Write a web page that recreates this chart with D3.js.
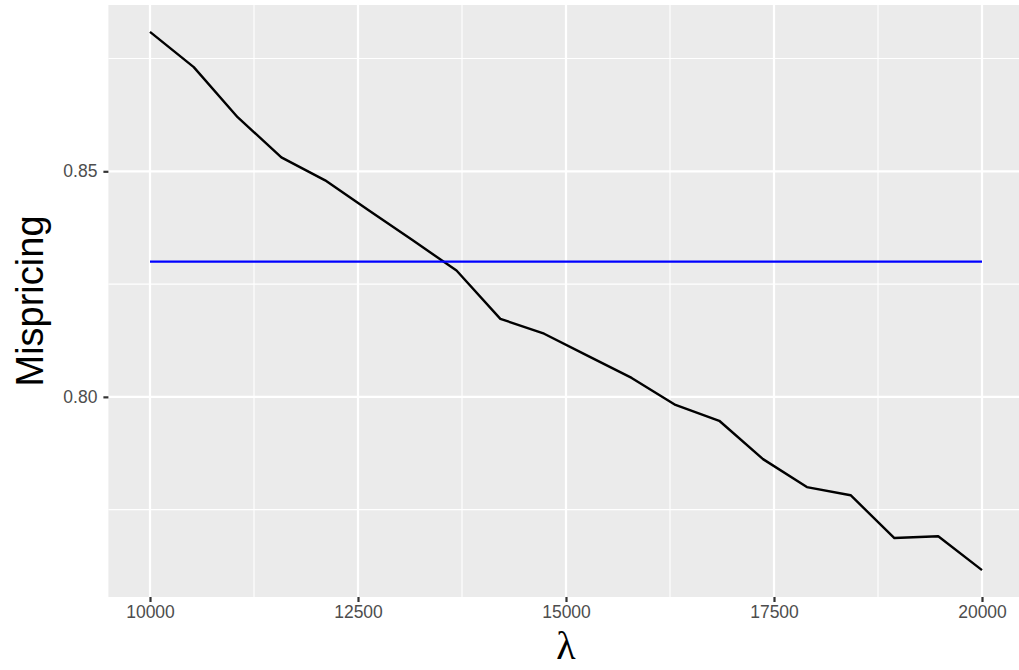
<!DOCTYPE html>
<html>
<head>
<meta charset="utf-8">
<script src="https://cdn.jsdelivr.net/npm/d3@7"></script>
<style>
  html, body { margin: 0; padding: 0; background: #fff; }
  svg { display: block; }
</style>
</head>
<body>
<svg id="chart" width="1019" height="670"></svg>
<script>
// Penalty parameter values (x) and the resulting mispricing (y)
const lambdaValues = [10000, 10526, 11053, 11579, 12105, 12632, 13158, 13684, 14211, 14737,
                      15263, 15789, 16316, 16842, 17368, 17895, 18421, 18947, 19474, 20000];
const mispricing = [0.8809, 0.8731, 0.8620, 0.8531, 0.8480, 0.8413, 0.8347, 0.8280, 0.8173, 0.8140,
                    0.8091, 0.8042, 0.7982, 0.7947, 0.7862, 0.7800, 0.7782, 0.7687, 0.7691, 0.7616];
// Reference level drawn as a horizontal line
const benchmark = 0.83;
const xTicks = [10000, 12500, 15000, 17500, 20000];
const xMinor = [11250, 13750, 16250, 18750];
const yTicks = [0.80, 0.85];
const yMinor = [0.775, 0.825, 0.875];

const width = 1019, height = 670;
const panel = { left: 108.4, top: 5, bottom: 597 };

// ggplot-style 5% expansion around the data range
const xr = d3.extent(lambdaValues), xPad = (xr[1] - xr[0]) * 0.05;
const yr = d3.extent(mispricing.concat([benchmark])), yPad = (yr[1] - yr[0]) * 0.05;

const x = d3.scaleLinear().domain([xr[0] - xPad, xr[1] + xPad]).range([panel.left, 1023.6]);
const y = d3.scaleLinear().domain([yr[0] - yPad, yr[1] + yPad]).range([panel.bottom, panel.top]);

const svg = d3.select("#chart");

// panel background
svg.append("rect")
  .attr("x", x.range()[0]).attr("y", panel.top)
  .attr("width", x.range()[1] - x.range()[0]).attr("height", panel.bottom - panel.top)
  .attr("fill", "#EBEBEB");

const grid = svg.append("g");
grid.selectAll(".xminor").data(xMinor).join("line")
  .attr("x1", d => x(d)).attr("x2", d => x(d))
  .attr("y1", panel.top).attr("y2", panel.bottom)
  .attr("stroke", "#fff").attr("stroke-width", 1.1);
grid.selectAll(".yminor").data(yMinor).join("line")
  .attr("x1", x.range()[0]).attr("x2", x.range()[1])
  .attr("y1", d => y(d)).attr("y2", d => y(d))
  .attr("stroke", "#fff").attr("stroke-width", 1.1);
grid.selectAll(".xmajor").data(xTicks).join("line")
  .attr("x1", d => x(d)).attr("x2", d => x(d))
  .attr("y1", panel.top).attr("y2", panel.bottom)
  .attr("stroke", "#fff").attr("stroke-width", 2.2);
grid.selectAll(".ymajor").data(yTicks).join("line")
  .attr("x1", x.range()[0]).attr("x2", x.range()[1])
  .attr("y1", d => y(d)).attr("y2", d => y(d))
  .attr("stroke", "#fff").attr("stroke-width", 2.2);

// mispricing curve
const line = d3.line().x((d, i) => x(lambdaValues[i])).y(d => y(d));
svg.append("path")
  .datum(mispricing)
  .attr("d", line)
  .attr("fill", "none")
  .attr("stroke", "#000")
  .attr("stroke-width", 2.4)
  .attr("stroke-linejoin", "round");

// benchmark line across the lambda range
svg.append("line")
  .attr("x1", x(xr[0])).attr("x2", x(xr[1]))
  .attr("y1", y(benchmark)).attr("y2", y(benchmark))
  .attr("stroke", "#0000FF").attr("stroke-width", 2.2);

// axes
const xAxis = svg.append("g")
  .attr("transform", `translate(0,${panel.bottom})`)
  .call(d3.axisBottom(x).tickValues(xTicks).tickFormat(d3.format("d")).tickSize(5).tickPadding(4));
const yAxis = svg.append("g")
  .attr("transform", `translate(${panel.left},0)`)
  .call(d3.axisLeft(y).tickValues(yTicks).tickFormat(d3.format(".2f")).tickSize(5).tickPadding(6));

[xAxis, yAxis].forEach(g => {
  g.select(".domain").remove();
  g.selectAll(".tick line").attr("stroke", "#333").attr("stroke-width", 2.2);
  g.selectAll(".tick text")
    .attr("fill", "#4d4d4d")
    .style("font-family", "'Liberation Sans', Arial, Helvetica, sans-serif")
    .style("font-size", "17.5px");
});

// axis titles
svg.append("text")
  .attr("x", x(15000)).attr("y", 659)
  .attr("text-anchor", "middle")
  .style("font-family", "'Liberation Serif', 'Times New Roman', serif")
  .style("font-size", "40px")
  .attr("fill", "#000")
  .text("λ");

svg.append("text")
  .attr("transform", `translate(43,${(panel.top + panel.bottom) / 2}) rotate(-90)`)
  .attr("text-anchor", "middle")
  .style("font-family", "'Liberation Sans', Arial, Helvetica, sans-serif")
  .style("font-size", "38px")
  .attr("fill", "#000")
  .text("Mispricing");
</script>
</body>
</html>
